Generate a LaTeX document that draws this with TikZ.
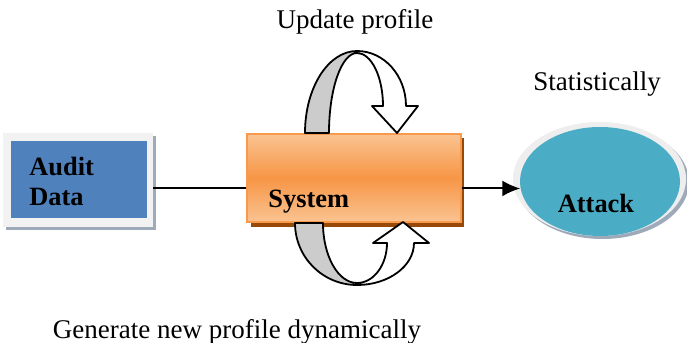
\documentclass[tikz,border=0pt]{standalone}
\usepackage{fontspec}
\setmainfont{Liberation Serif}
\usetikzlibrary{fit,shapes.geometric,arrows.meta}

\definecolor{auditblue}{HTML}{4F81BD}
\definecolor{framegray}{HTML}{F2F2F2}
\definecolor{shadowblue}{HTML}{9EA9B9}
\definecolor{syslight}{HTML}{FAC391}
\definecolor{sysmid}{HTML}{F79646}
\definecolor{sysedge}{HTML}{F79A4E}
\definecolor{sysshadow}{HTML}{984807}
\definecolor{attackteal}{HTML}{4BACC6}
\definecolor{ringgray}{HTML}{EEEEEE}
\definecolor{bandgray}{HTML}{CCCCCC}

\tikzset{
  lbl/.style={font=\fontsize{13.5}{16}\selectfont, inner sep=0pt},
  boxtext/.style={font=\fontsize{13.2}{15}\selectfont\bfseries, inner sep=0pt},
  band/.style={draw=black, line width=0.9pt, line join=round},
  flowline/.style={draw=black, line width=0.8pt},
}

\begin{document}
\begin{tikzpicture}[x=0.5pt, y=-0.5pt]
\useasboundingbox (0,0) rectangle (687,343);

% Audit Data box: shadow, light frame, blue panel
\fill[shadowblue] (6,136) rectangle (156,230);
\node[fit={(3,133)(153,227)}, inner sep=0pt, fill=framegray] (audit) {};
\node[fit={(11,141)(147,218)}, inner sep=0pt, fill=auditblue] (auditin) {};
\node[boxtext, anchor=base west, align=left] (audittxt) at (29,205) {Audit\\[0pt]Data};

% System box with its shadow and vertical gradient
\fill[sysshadow] (251,138) rectangle (464,227);
\node[fit={(247,134)(461,222)}, inner sep=0pt, draw=sysedge, line width=0.8pt,
      top color=syslight, bottom color=syslight, middle color=sysmid] (sys) {};
\node[boxtext, anchor=base west] (systxt) at (268,207) {System};

% Attack ellipse: shadow, light ring, teal body
\node[ellipse, inner sep=0pt, minimum width=86.5pt, minimum height=57pt,
      fill=shadowblue] (attackshadow) at (602.5,182) {};
\node[ellipse, inner sep=0pt, minimum width=86.5pt, minimum height=57pt,
      fill=ringgray] (attack) at (599.5,179) {};
\node[ellipse, inner sep=0pt, minimum width=80pt, minimum height=54.5pt,
      fill=attackteal] (attackin) at (600,181.5) {};
\node[boxtext, anchor=base] (attacktxt) at (596,212) {Attack};

% Flow connectors
\coordinate (flow) at (0,188);
\draw[flowline] (audit.east |- flow) -- (sys.west |- flow);
\draw[flowline, line width=1pt, -{Latex[length=9pt, width=8pt]}]
  (sys.east |- attackin.185) -- (attackin.185);

% Upper curved arrow (update loop)
\path[band, fill=bandgray]
  (305,133) arc[start angle=180, end angle=270, x radius=52, y radius=82]
  -- (357,53) arc[start angle=270, end angle=180, x radius=28, y radius=80]
  -- cycle;
\path[band, fill=white]
  (357,51) arc[start angle=270, end angle=360, x radius=49, y radius=55]
  -- (418,106) -- (397,133) -- (372,106) -- (383,106)
  arc[start angle=0, end angle=-90, x radius=26, y radius=53]
  -- cycle;

% Lower curved arrow (new profile loop)
\path[band, fill=bandgray]
  (295,223) arc[start angle=180, end angle=90, x radius=62, y radius=62]
  -- (357,283) arc[start angle=90, end angle=180, x radius=34, y radius=60]
  -- cycle;
\path[band, fill=white]
  (357,285) arc[start angle=90, end angle=0, x radius=57, y radius=42]
  -- (429,243) -- (403,222) -- (373,243) -- (387,243)
  arc[start angle=0, end angle=90, x radius=30, y radius=40]
  -- cycle;

% Captions
\node[lbl, anchor=base] (updtxt) at (355,28) {Update profile};
\node[lbl, anchor=base] (stattxt) at (597,90) {Statistically};
\node[lbl, anchor=base] (gentxt) at (237,338) {Generate new profile dynamically};
\end{tikzpicture}
\end{document}
